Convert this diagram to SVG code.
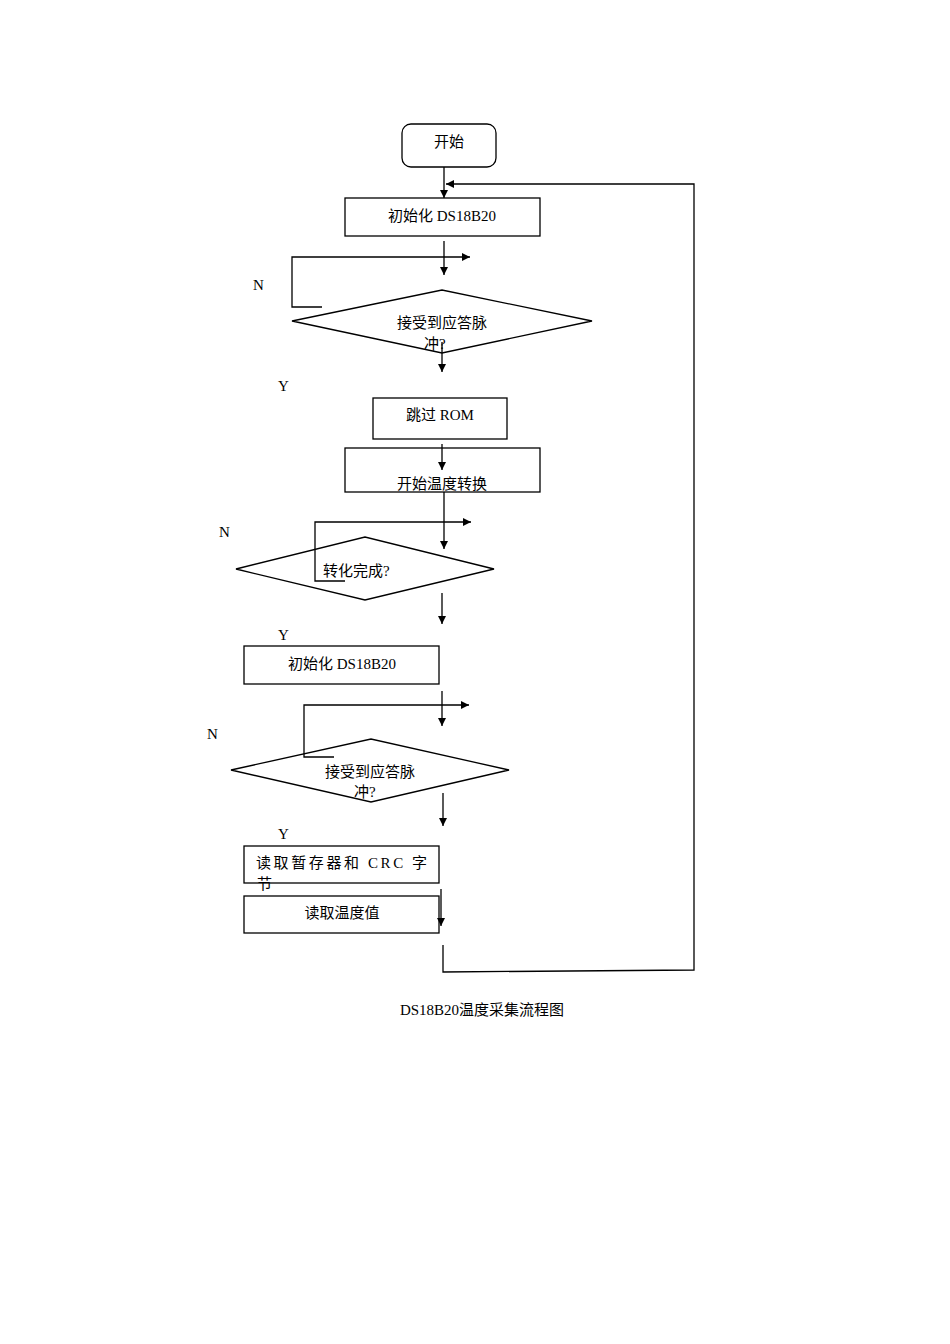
<svg xmlns="http://www.w3.org/2000/svg" width="950" height="1344" viewBox="0 0 950 1344">
<style>
.s{fill:#fff;stroke:#000;stroke-width:1.3}
.l{fill:none;stroke:#000;stroke-width:1.3}
text{font-family:"Liberation Serif","Noto Sans CJK SC",serif;font-size:15px;fill:#000}
.c{text-anchor:middle}
</style>
<defs><marker id="a" viewBox="0 0 10 10" refX="10" refY="5" markerWidth="8" markerHeight="8" markerUnits="userSpaceOnUse" orient="auto"><path d="M0,0L10,5L0,10z" fill="#000"/></marker>
<marker id="b" viewBox="0 0 10 10" refX="10" refY="5" markerWidth="10" markerHeight="10" markerUnits="userSpaceOnUse" orient="auto"><path d="M0,0L10,5L0,10z" fill="#000"/></marker></defs>
<rect width="950" height="1344" fill="#fff"/>
<g id="start"><rect class="s" x="402" y="124" width="94" height="43" rx="9"/><text class="c" x="449" y="147">开始</text></g>
<g id="init1"><rect class="s" x="345" y="198" width="195" height="38"/><text class="c" x="442" y="221">初始化 DS18B20</text></g>
<g id="dec1"><polygon class="s" points="292,321 442,290 592,321 442,353"/><text class="c" x="442" y="328">接受到应答脉</text><text x="424" y="349">冲?</text></g>
<g id="skip"><rect class="s" x="373" y="398" width="134" height="41"/><text class="c" x="440" y="420">跳过 ROM</text></g>
<g id="conv"><rect class="s" x="345" y="448" width="195" height="44"/><text class="c" x="442" y="489">开始温度转换</text></g>
<g id="dec2"><polygon class="s" points="236,569 365,537 494,569 365,600"/><text x="323" y="576">转化完成?</text></g>
<g id="init2"><rect class="s" x="244" y="646" width="195" height="38"/><text class="c" x="342" y="669">初始化 DS18B20</text></g>
<g id="dec3"><polygon class="s" points="231,770 371,739 509,770 371,802"/><text class="c" x="370" y="777">接受到应答脉</text><text x="354" y="797">冲?</text></g>
<g id="read1"><rect class="s" x="244" y="846" width="195" height="37"/><text x="256" y="868" letter-spacing="2.6">读取暂存器和 CRC 字</text><text x="257" y="889">节</text></g>
<g id="read2"><rect class="s" x="244" y="896" width="195" height="37"/><text class="c" x="342" y="918">读取温度值</text></g>
<g id="connectors">
<line class="l" x1="444" y1="167" x2="444" y2="198" marker-end="url(#a)"/>
<polyline class="l" points="443,945 443,972 694,970 694,184 446,184" marker-end="url(#a)"/>
<line class="l" x1="444" y1="241" x2="444" y2="275" marker-end="url(#a)"/>
<polyline class="l" points="322,307 292,307 292,257 470,257" marker-end="url(#a)"/>
<line class="l" x1="442" y1="342" x2="442" y2="372" marker-end="url(#a)"/>
<line class="l" x1="442" y1="444" x2="442" y2="470" marker-end="url(#a)"/>
<line class="l" x1="444" y1="492" x2="444" y2="549" marker-end="url(#a)"/>
<polyline class="l" points="345,581 315,581 315,522 471,522" marker-end="url(#a)"/>
<line class="l" x1="442" y1="593" x2="442" y2="624" marker-end="url(#a)"/>
<line class="l" x1="442" y1="691" x2="442" y2="726" marker-end="url(#a)"/>
<polyline class="l" points="334,757 304,757 304,705 469,705" marker-end="url(#a)"/>
<line class="l" x1="443" y1="793" x2="443" y2="826" marker-end="url(#a)"/>
<line class="l" x1="441" y1="889" x2="441" y2="926" marker-end="url(#a)"/>
</g>
<g id="labels">
<text x="253" y="290" font-family="DejaVu Sans Condensed,sans-serif">N</text>
<text x="278" y="391">Y</text>
<text x="219" y="537">N</text>
<text x="278" y="640">Y</text>
<text x="207" y="739" font-size="17">N</text>
<text x="278" y="839">Y</text>
<text class="c" x="482" y="1015" font-size="20" font-family="DejaVu Serif Condensed,Noto Sans CJK SC,serif">DS18B20温度采集流程图</text>
</g>
</svg>
